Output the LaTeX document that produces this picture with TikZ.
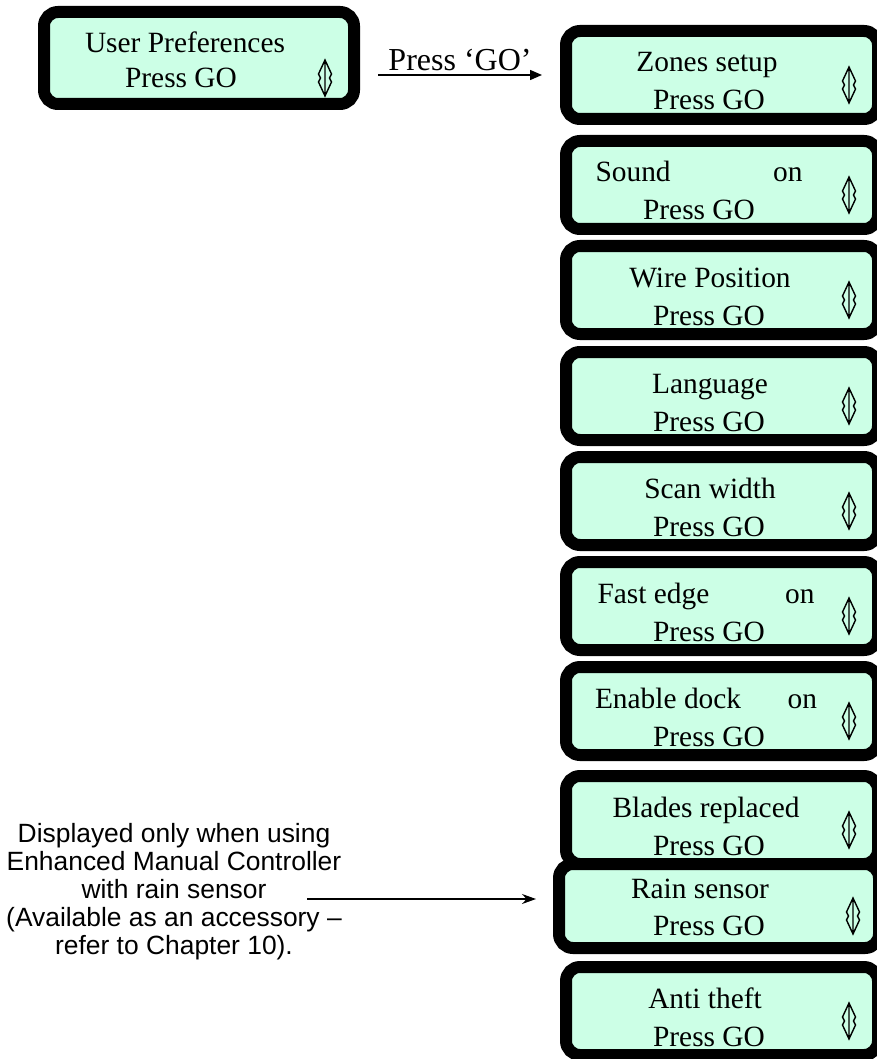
\documentclass[tikz,border=0pt]{standalone}
\usepackage{fontspec}
\setmainfont{Liberation Serif}
\newfontfamily\notefont{Liberation Sans}
\usetikzlibrary{arrows.meta,positioning}

\definecolor{lcdgreen}{RGB}{204,255,230}

\tikzset{
  lcd/.style={draw=black, line width=6pt, fill=lcdgreen, rounded corners=7pt,
    minimum width=156pt, minimum height=44pt, inner sep=0pt},
  lcdline/.style={anchor=base, inner sep=0pt},
  goarrow/.style={-{Triangle[length=6pt,width=5pt]}, line width=0.75pt},
  pointer/.style={-{Stealth[length=7pt,width=5pt]}, line width=0.6pt},
  updown/.pic={
    \draw[line width=0.7pt, line join=miter]
      (0,-18) -- (6.5,-4) -- (4.5,0) -- (6.5,4) -- (0,18) -- (-6.5,4) -- (-4.5,0) -- (-6.5,-4) -- cycle
      (0,-18) -- (0,18);
  }
}

\begin{document}
\begin{tikzpicture}[x=0.5pt, y=-0.5pt, font=\fontsize{14.7}{18}\selectfont]
    \useasboundingbox (0,0) rectangle (877,1059);

    % --- Start screen ---
    \node[lcd, minimum width=155pt, minimum height=46pt] (prefs) at (199,58) {};
    \node[lcdline] (prefs-a) at (185,53) {User Preferences};
    \node[lcdline] (prefs-b) at (181,88) {Press GO};
    \pic at (325,78) {updown};

    % --- Menu screens (one under the other) ---
    \foreach \name/\y/\xa/\xb/\txt in {
        zones/75/707/709/{Zones setup},
        sound/185/699/699/{\makebox[103.5pt]{Sound\hfill on}},
        wire/290/710/709/{Wire Position},
        language/396/710/709/{Language},
        scan/501/710/709/{Scan width},
        fast/606/706/709/{\makebox[108.5pt]{Fast edge\hfill on}},
        dock/711/706/709/{\makebox[111pt]{Enable dock\hfill on}},
        blades/820/706/709/{Blades replaced},
        theft/1011/705/709/{Anti theft}}
    {
        \node[lcd] (\name) at (722,\y) {};
        \node[lcdline] (\name-a) at (\xa,\y-3) {\txt};
        \node[lcdline] (\name-b) at (\xb,\y+35) {Press GO};
        \pic at (849,\y+10) {updown};
    }

    % Rain sensor screen sits over the blades screen
    \node[lcd, minimum width=160pt, minimum height=42pt] (rain) at (719,906) {};
    \node[lcdline] (rain-a) at (700,898) {Rain sensor};
    \node[lcdline] (rain-b) at (709,935) {Press GO};
    \pic at (853,916) {updown};

    % Arrow into the menu
    \draw[goarrow, shorten <=9pt, shorten >=9pt] (prefs.east |- zones.west) -- (zones.west)
        node[midway, above, inner sep=1.5pt, font=\fontsize{16}{19}\selectfont] (golabel) {Press ‘GO’};

    % --- Note on the rain sensor ---
    \node[align=center, inner sep=0pt, font=\notefont\fontsize{13.2}{14}\selectfont] (note) at (174,892)
        {Displayed only when using\\Enhanced Manual Controller\\with rain sensor\\(Available as an accessory –\\refer to Chapter 10).};
    \coordinate (tail) at (307,899);
    \draw[pointer, shorten >=8.5pt] (tail) -- (tail -| rain.west);
\end{tikzpicture}
\end{document}
